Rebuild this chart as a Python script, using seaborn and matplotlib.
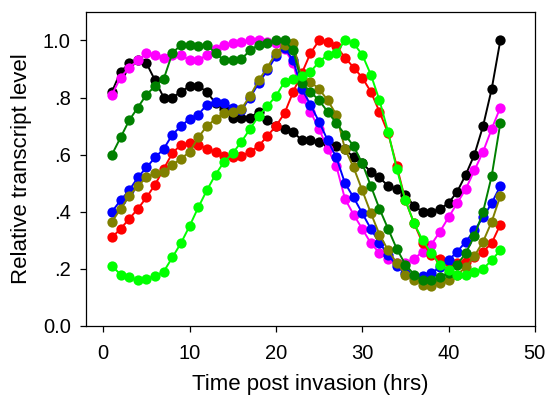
import matplotlib
matplotlib.use("Agg")
import matplotlib.pyplot as plt
import seaborn as sns
import pandas as pd

hours = list(range(1, 47))

black = [.82, .89, .92, .93, .92, .86, .80, .80, .82, .84, .84, .82, .78, .76, .73, .73, .73, .75, .72, .70,
         .69, .68, .65, .65, .645, .64, .63, .62, .59, .57, .54, .52, .49, .48, .46, .42, .40, .40, .41, .43,
         .47, .53, .60, .70, .83, 1.0]
magenta = [.81, .87, .905, .93, .955, .95, .94, .95, .95, .93, .93, .95, .97, .985, .99, .995, 1.0, 1.0, .995, .99,
           .97, .92, .80, .75, .69, .62, .56, .445, .39, .34, .29, .255, .235, .22, .22, .235, .26, .285, .33, .38,
           .43, .48, .545, .61, .69, .765]
red = [.31, .34, .375, .41, .45, .495, .55, .605, .635, .64, .635, .62, .61, .595, .59, .595, .61, .63, .665, .70,
       .745, .82, .885, .955, 1.0, .995, .98, .94, .905, .87, .82, .75, .675, .56, .44, .36, .29, .25, .235, .225,
       .22, .225, .24, .26, .29, .355]
blue = [.40, .44, .475, .52, .555, .59, .62, .67, .70, .725, .74, .775, .785, .78, .765, .755, .80, .85, .895, .945,
        .975, .93, .83, .775, .715, .65, .59, .50, .45, .395, .34, .29, .25, .21, .185, .17, .175, .185, .205, .23,
        .26, .295, .335, .38, .43, .49]
olive = [.365, .41, .455, .49, .52, .535, .54, .565, .585, .61, .66, .70, .725, .745, .75, .76, .805, .86, .905, .955,
         .985, .99, .865, .855, .83, .79, .74, .62, .555, .475, .395, .32, .265, .22, .18, .16, .145, .14, .15, .16,
         .18, .205, .245, .295, .365, .455]
darkgreen = [.60, .66, .72, .765, .81, .84, .865, .955, .985, .985, .98, .985, .955, .93, .93, .935, .965, .985, .99, 1.0,
             1.0, .965, .85, .82, .79, .75, .71, .67, .63, .57, .49, .41, .34, .27, .215, .18, .16, .16, .17, .185,
             .215, .255, .315, .40, .525, .71]
lime = [.21, .18, .17, .16, .165, .175, .19, .24, .29, .35, .415, .475, .53, .575, .605, .645, .69, .735, .77, .805,
        .855, .865, .875, .89, .925, .95, .955, 1.0, .99, .95, .88, .79, .68, .55, .44, .36, .30, .255, .215, .195,
        .18, .18, .19, .20, .23, .265]

series_names = ["black", "magenta", "red", "blue", "olive", "darkgreen", "lime"]
series_values = [black, magenta, red, blue, olive, darkgreen, lime]
series_colors = ["#000000", "#ff00ff", "#ff0000", "#0000ff", "#808000", "#008000", "#00ff00"]

ytick_vals = [0.0, 0.2, 0.4, 0.6, 0.8, 1.0]
ytick_labels = ["0.0", ".2", ".4", ".6", ".8", "1.0"]
xtick_vals = [0, 10, 20, 30, 40, 50]

sns.set_style("ticks")
plt.rcParams["font.family"] = ["Liberation Sans", "DejaVu Sans"]
plt.rcParams["text.color"] = "black"
plt.rcParams["axes.labelcolor"] = "black"

fig = plt.figure(figsize=(5.48, 3.96), dpi=100)
ax = fig.add_axes([0.157, 0.177, 0.819, 0.793])

rows = []
for name, vals in zip(series_names, series_values):
    for h, v in zip(hours, vals):
        rows.append({"hour": h, "level": v, "series": name})
df = pd.DataFrame(rows)

for name, col in zip(series_names, series_colors):
    sns.lineplot(data=df[df["series"] == name], x="hour", y="level", color=col,
                 marker="o", markersize=7.4, markeredgewidth=0, linewidth=1.4,
                 ax=ax, legend=False)

ax.set_xlim(-2, 50)
ax.set_ylim(0, 1.1)
ax.set_xticks(xtick_vals)
ax.set_xticklabels([str(v) for v in xtick_vals])
ax.set_yticks(ytick_vals)
ax.set_yticklabels(ytick_labels)
for s in ax.spines.values():
    s.set_visible(True)
    s.set_color("black")
    s.set_linewidth(0.9)
ax.tick_params(axis="both", direction="out", length=4, width=0.9, labelsize=14.5, colors="black")
ax.tick_params(axis="x", pad=9)
ax.tick_params(axis="y", pad=7)
ax.set_xlabel("Time post invasion (hrs)", fontsize=16, labelpad=8, color="black")
ax.set_ylabel("Relative transcript level", fontsize=16, labelpad=8, color="black")

fig.savefig("out.png", dpi=100)
